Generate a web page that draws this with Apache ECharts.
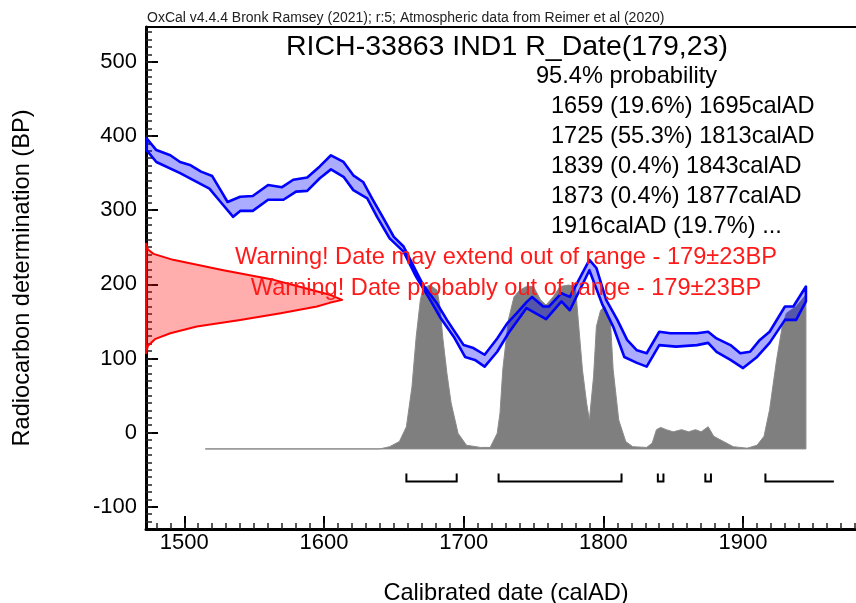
<!DOCTYPE html>
<html>
<head>
<meta charset="utf-8">
<title>RICH-33863 IND1 R_Date(179,23)</title>
<script src="https://cdn.jsdelivr.net/npm/echarts@6/dist/echarts.min.js"></script>
<style>html,body{margin:0;padding:0;background:#fff;}</style>
</head>
<body>
<div id="main" style="width:856px;height:603px;"></div>
<script type="text/javascript">
// axis ranges (calAD / BP)
var xMin = 1472.6, xMax = 1988;
var yMin = -130, yMax = 547;
var xLabels = [1500, 1600, 1700, 1800, 1900];
var yLabels = [-100, 0, 100, 200, 300, 400, 500];

// calibration curve band (upper / lower edge), [calAD, BP]
var curveUpper = [[1473,397],[1480,381],[1490,374],[1497,365],[1504,361],[1512,352],[1520,346],[1526,327],[1531,311],
  [1540,318],[1549,319],[1560,334],[1570,331],[1578,341],[1588,344],[1597,359],[1605,374],[1614,365],[1621,347],
  [1628,338],[1635,314],[1642,291],[1650,264],[1657,251],[1664,225],[1671,199],[1681,174],[1688,152],[1700,118],
  [1707,114],[1715,105],[1724,127],[1731,147],[1738,161],[1745,176],[1749,183],[1757,170],[1761,170],[1770,188],
  [1776,183],[1781,201],[1790,233],[1795,222],[1802,179],[1810,152],[1817,125],[1824,111],[1831,107],[1840,136],
  [1848,134],[1857,134],[1867,134],[1875,136],[1881,127],[1891,118],[1898,107],[1905,109],[1912,125],[1919,136],
  [1930,170],[1936,170],[1945,197]];
var curveLower = [[1473,381],[1480,365],[1497,350],[1518,329],[1526,311],[1535,291],[1540,299],[1549,299],[1560,314],
  [1571,314],[1580,325],[1588,326],[1597,343],[1605,355],[1614,345],[1621,327],[1631,316],[1638,291],[1647,262],
  [1657,244],[1666,210],[1676,179],[1683,156],[1693,129],[1701,102],[1708,98],[1715,89],[1724,109],[1732,134],
  [1745,168],[1759,153],[1770,177],[1776,165],[1783,192],[1790,219],[1799,174],[1807,143],[1815,102],[1824,94],
  [1831,89],[1840,118],[1852,116],[1867,118],[1875,121],[1881,109],[1891,98],[1900,87],[1910,102],[1919,121],
  [1930,152],[1938,152],[1945,177]];

// measured radiocarbon date (likelihood), [calAD extent, BP]
var likelihood = [[1472.6,255],[1474,247],[1478,241],[1492,233],[1528,219],[1564,206],[1580,198],[1592,192],[1604,186],[1613,179],
  [1604,175],[1595,170],[1569,161],[1540,152],[1509,143],[1490,134],[1479,126],[1474,117],[1472.6,107]];

// calibrated density (top edge), [calAD, BP]; base line below
var densityBase = -22;
var densityTop = [[1515,-22],[1640,-22],[1647,-19],[1654,-12],[1659,8],[1663,62],[1666,129],[1669,179],[1671,195],
  [1676,199],[1681,192],[1683,170],[1685,129],[1688,80],[1691,40],[1696,-1],[1702,-17],[1712,-20],[1719,-20],
  [1724,-1],[1726,26],[1728,85],[1732,152],[1736,183],[1740,192],[1745,197],[1750,197],[1755,179],[1759,172],
  [1764,183],[1769,197],[1775,199],[1780,197],[1782,152],[1785,85],[1788,40],[1790,17],[1793,76],[1795,143],
  [1798,165],[1801,170],[1805,152],[1807,85],[1811,17],[1816,-12],[1821,-19],[1831,-20],[1835,-14],[1838,4],
  [1841,7],[1845,4],[1850,1],[1856,4],[1861,1],[1866,4],[1870,1],[1875,8],[1879,-5],[1886,-12],[1893,-19],
  [1903,-21],[1910,-17],[1915,-5],[1919,31],[1924,98],[1928,143],[1931,161],[1938,170],[1942,179],[1945,186]];

// 95.4% ranges
var rangeStart = [1659, 1725, 1839, 1873, 1916];
var rangeEnd   = [1695, 1813, 1843, 1877, 1965];
var rangeOpen  = [false, false, false, false, true];
var rangeLevel = -66;

var headerText = 'OxCal v4.4.4 Bronk Ramsey (2021); r:5; Atmospheric data from Reimer et al (2020)';
var titleText = 'RICH-33863 IND1 R_Date(179,23)';
var probLines = ['1659 (19.6%) 1695calAD', '1725 (55.3%) 1813calAD', '1839 (0.4%) 1843calAD',
  '1873 (0.4%) 1877calAD', '1916calAD (19.7%) ...'];
var warnLines = ['Warning! Date may extend out of range - 179\u00b123BP',
  'Warning! Date probably out of range - 179\u00b123BP'];

var FONT = '"Liberation Sans", Arial, sans-serif';

var xMinor = [], yMinor = [];
for (var v = 1480; v < xMax; v += 10) xMinor.push(v);
for (var w = -120; w < yMax; w += 10) yMinor.push(w);

function polygon(points, style, z) {
  return {
    type: 'custom', coordinateSystem: 'cartesian2d', silent: true, z: z,
    data: [[points[0][0], points[0][1]]],
    renderItem: function (params, api) {
      return {
        type: 'polygon',
        shape: { points: points.map(function (p) { return api.coord(p); }) },
        style: style
      };
    }
  };
}

var bandPoints = curveUpper.concat(curveLower.slice().reverse());
var densityPoints = [[densityTop[0][0], densityBase]].concat(densityTop, [[densityTop[densityTop.length - 1][0], densityBase]]);

var rangeData = rangeStart.map(function (s, i) { return [s, rangeEnd[i], rangeOpen[i] ? 1 : 0]; });

var graphics = [
  { type: 'text', x: 147, y: 18, style: { text: headerText, font: '14px ' + FONT, fill: '#222', align: 'left', verticalAlign: 'middle' } },
  { type: 'text', x: 507, y: 47, style: { text: titleText, font: '28.5px ' + FONT, fill: '#000', align: 'center', verticalAlign: 'middle' } },
  { type: 'text', x: 536, y: 76, style: { text: '95.4% probability', font: '23.6px ' + FONT, fill: '#000', align: 'left', verticalAlign: 'middle' } }
];
probLines.forEach(function (t, i) {
  graphics.push({ type: 'text', x: 551, y: 106.5 + i * 30, style: { text: t, font: '23.6px ' + FONT, fill: '#000', align: 'left', verticalAlign: 'middle' } });
});
warnLines.forEach(function (t, i) {
  graphics.push({ type: 'text', x: 506, y: 257 + i * 31, style: { text: t, font: '23.6px ' + FONT, fill: '#ff1a1a', align: 'center', verticalAlign: 'middle' } });
});

function plain(val) { return String(val); }

var myChart = echarts.init(document.getElementById('main'));
var option = {
  animation: false,
  backgroundColor: '#fff',
  grid: { left: 146, right: -10, top: 27, bottom: 74, outerBoundsMode: 'none' },
  xAxis: [{
    type: 'value', min: xMin, max: xMax, position: 'bottom',
    name: 'Calibrated date (calAD)', nameLocation: 'middle', nameGap: 52,
    nameTextStyle: { fontSize: 23.6, color: '#000', fontFamily: FONT },
    axisLine: { show: true, onZero: false, lineStyle: { color: '#000', width: 3 } },
    axisTick: { show: true, inside: true, length: 13, customValues: xLabels, lineStyle: { color: '#000', width: 2 } },
    axisLabel: { customValues: xLabels, formatter: plain, fontSize: 22, color: '#000', margin: 3, fontFamily: FONT },
    splitLine: { show: false }
  }, {
    type: 'value', min: xMin, max: xMax, position: 'bottom',
    axisLine: { show: false, onZero: false },
    axisTick: { show: true, inside: true, length: 6, customValues: xMinor, lineStyle: { color: '#222', width: 1.5 } },
    axisLabel: { show: false }, splitLine: { show: false }
  }, {
    type: 'value', min: xMin, max: xMax, position: 'top',
    axisLine: { show: true, onZero: false, lineStyle: { color: '#000', width: 2 } },
    axisTick: { show: false }, axisLabel: { show: false }, splitLine: { show: false }
  }],
  yAxis: [{
    type: 'value', min: yMin, max: yMax, position: 'left',
    name: 'Radiocarbon determination (BP)', nameLocation: 'middle', nameGap: 112,
    nameTextStyle: { fontSize: 23.6, color: '#000', fontFamily: FONT },
    axisLine: { show: true, onZero: false, lineStyle: { color: '#000', width: 3 } },
    axisTick: { show: true, inside: true, length: 12, customValues: yLabels, lineStyle: { color: '#000', width: 2 } },
    axisLabel: { customValues: yLabels, formatter: plain, fontSize: 22, color: '#000', margin: 9, fontFamily: FONT },
    splitLine: { show: false }
  }, {
    type: 'value', min: yMin, max: yMax, position: 'left',
    axisLine: { show: false, onZero: false },
    axisTick: { show: true, inside: true, length: 6, customValues: yMinor, lineStyle: { color: '#222', width: 1.5 } },
    axisLabel: { show: false }, splitLine: { show: false }
  }],
  series: [
    polygon(densityPoints, { fill: '#7f7f7f', stroke: '#8a8a8a', lineWidth: 1 }, 2),
    polygon(likelihood, { fill: 'rgba(255,0,0,0.32)', stroke: '#ff0000', lineWidth: 2, lineJoin: 'round' }, 3),
    polygon(bandPoints, { fill: 'rgba(0,0,255,0.33)', stroke: '#0000ff', lineWidth: 2.6, lineJoin: 'round' }, 4),
    {
      type: 'custom', coordinateSystem: 'cartesian2d', silent: true, z: 5,
      data: rangeData,
      renderItem: function (params, api) {
        var a = api.coord([api.value(0), rangeLevel]);
        var b = api.coord([api.value(1), rangeLevel]);
        var pts = [[a[0], a[1] - 8], a, b];
        if (!api.value(2)) pts.push([b[0], b[1] - 8]);
        return { type: 'polyline', shape: { points: pts }, style: { stroke: '#000', lineWidth: 2, fill: null } };
      }
    }
  ],
  graphic: { elements: graphics.map(function (g) { g.z = 100; return g; }) }
};
myChart.setOption(option);
</script>
</body>
</html>
